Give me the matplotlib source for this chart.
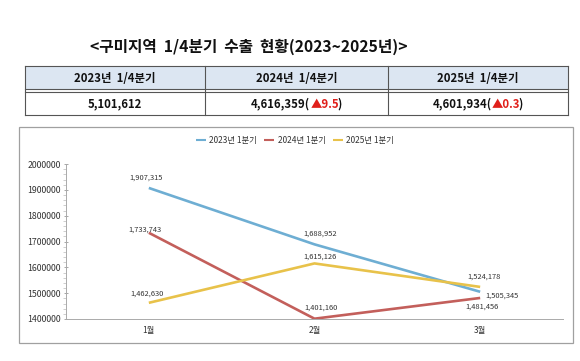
import matplotlib
matplotlib.use("Agg")
import matplotlib.pyplot as plt
from matplotlib.patches import Rectangle
from matplotlib.ticker import MultipleLocator, FuncFormatter

plt.rcParams['font.family'] = ['Noto Sans CJK KR', 'DejaVu Sans']

# ---------------- data ----------------
title = "<구미지역  1/4분기  수출  현황(2023~2025년)>"
table_headers = ["2023년  1/4분기", "2024년  1/4분기", "2025년  1/4분기"]
table_totals = ["5,101,612", "4,616,359", "4,601,934"]
table_changes = ["", "▲9.5", "▲0.3"]

months = ["1월", "2월", "3월"]
series_names = ["2023년 1분기", "2024년 1분기", "2025년 1분기"]
values_2023 = [1907315, 1688952, 1505345]
values_2024 = [1733743, 1401160, 1481456]
values_2025 = [1462630, 1615126, 1524178]
colors = ["#6eaed3", "#c35f5b", "#e8c24a"]

W, H = 580, 361
fig = plt.figure(figsize=(W / 100, H / 100), dpi=100)

# background axes in pixel coordinates for title / table / frame
bg = fig.add_axes([0, 0, 1, 1])
bg.set_xlim(0, W)
bg.set_ylim(H, 0)
bg.axis("off")

bg.text(249, 47, title, ha="center", va="center", fontsize=11.3,
        fontweight="bold", color="#111111")

# table
left, right = 25, 568
cols = [left, 205, 388, right]
top, hdr_bot, val_top, bot = 66, 89, 92, 115
bg.add_patch(Rectangle((left, top), right - left, hdr_bot - top,
                       facecolor="#dce6f2", edgecolor="none"))
for y in (top, hdr_bot, val_top, bot):
    bg.plot([left, right], [y, y], color="#555555", lw=0.8)
for xc in cols:
    bg.plot([xc, xc], [top, bot], color="#555555", lw=0.8)

r = fig.canvas.get_renderer()
for i in range(3):
    cx = (cols[i] + cols[i + 1]) / 2
    bg.text(cx, (top + hdr_bot) / 2 + 0.5, table_headers[i], ha="center",
            va="center", fontsize=8.2, fontweight="bold", color="#111111")
    if table_changes[i]:
        parts = [(table_totals[i] + "(", "#111111", 0.0),
                 (table_changes[i], "#e0201b", 0.0),
                 (")", "#111111", -1.5)]
        widths = []
        for s, c, adj in parts:
            tt = bg.text(0, 0, s, fontsize=8.2, fontweight="bold")
            widths.append(tt.get_window_extent(renderer=r).width)
            tt.remove()
        x0 = cx - (sum(widths) - 1.5) / 2
        for (s, c, adj), w in zip(parts, widths):
            x0 += adj
            bg.text(x0, (val_top + bot) / 2 + 0.5, s, ha="left", va="center",
                    fontsize=8.2, fontweight="bold", color=c)
            x0 += w
    else:
        bg.text(cx, (val_top + bot) / 2 + 0.5, table_totals[i], ha="center",
                va="center", fontsize=8.2, fontweight="bold", color="#111111")

# chart frame
bg.add_patch(Rectangle((19, 127), 573 - 19, 343 - 127, facecolor="none",
                       edgecolor="#a0a0a0", lw=0.9))

# ---------------- line chart ----------------
ax = fig.add_axes([66 / W, (H - 319) / H, 497 / W, 155 / H])
ax.set_facecolor("none")
x = list(range(len(months)))
all_series = [values_2023, values_2024, values_2025]
for vals, name, c in zip(all_series, series_names, colors):
    ax.plot(x, vals, color=c, lw=1.9, label=name, solid_capstyle="butt")

ax.set_xlim(-0.5, len(months) - 0.5)
ax.set_ylim(1400000, 2000000)
ax.yaxis.set_major_locator(MultipleLocator(100000))
ax.yaxis.set_minor_locator(MultipleLocator(20000))
ax.yaxis.set_major_formatter(FuncFormatter(lambda v, p: f"{int(v)}"))
ax.set_xticks(x)
ax.set_xticklabels(months)
ax.tick_params(axis="y", which="major", length=3, width=0.6, color="#999999",
               labelsize=6.3, labelcolor="#333333", pad=2, direction="inout")
ax.tick_params(axis="y", which="minor", length=2, width=0.5, color="#bbbbbb",
               direction="out")
ax.tick_params(axis="x", length=0, labelsize=6.0, labelcolor="#333333", pad=5)
for s in ("top", "right"):
    ax.spines[s].set_visible(False)
for s in ("left", "bottom"):
    ax.spines[s].set_color("#aaaaaa")
    ax.spines[s].set_linewidth(0.7)

# data labels (offsets in points)
label_offsets = [
    [(-2, 7.2), (4, 7.5), (16, -3)],
    [(-3, 2.2), (5, 8), (1.5, -6.3)],
    [(-1, 6.5), (3.6, 4.8), (2.5, 7.4)],
]
for vals, offs in zip(all_series, label_offsets):
    for xi, v, (dx, dy) in zip(x, vals, offs):
        ax.annotate(f"{v:,}", (xi, v), xytext=(dx, dy),
                    textcoords="offset points", ha="center", va="center",
                    fontsize=5.4, color="#333333")

leg = fig.legend(loc="center", bbox_to_anchor=(295 / W, (H - 140) / H),
                 ncol=3, frameon=False, fontsize=6.0, handlelength=1.2,
                 columnspacing=0.9, handletextpad=0.4)
for t in leg.get_texts():
    t.set_color("#333333")
for h in leg.get_lines():
    h.set_linewidth(1.5)

fig.savefig("out.png", dpi=100, facecolor="white")
